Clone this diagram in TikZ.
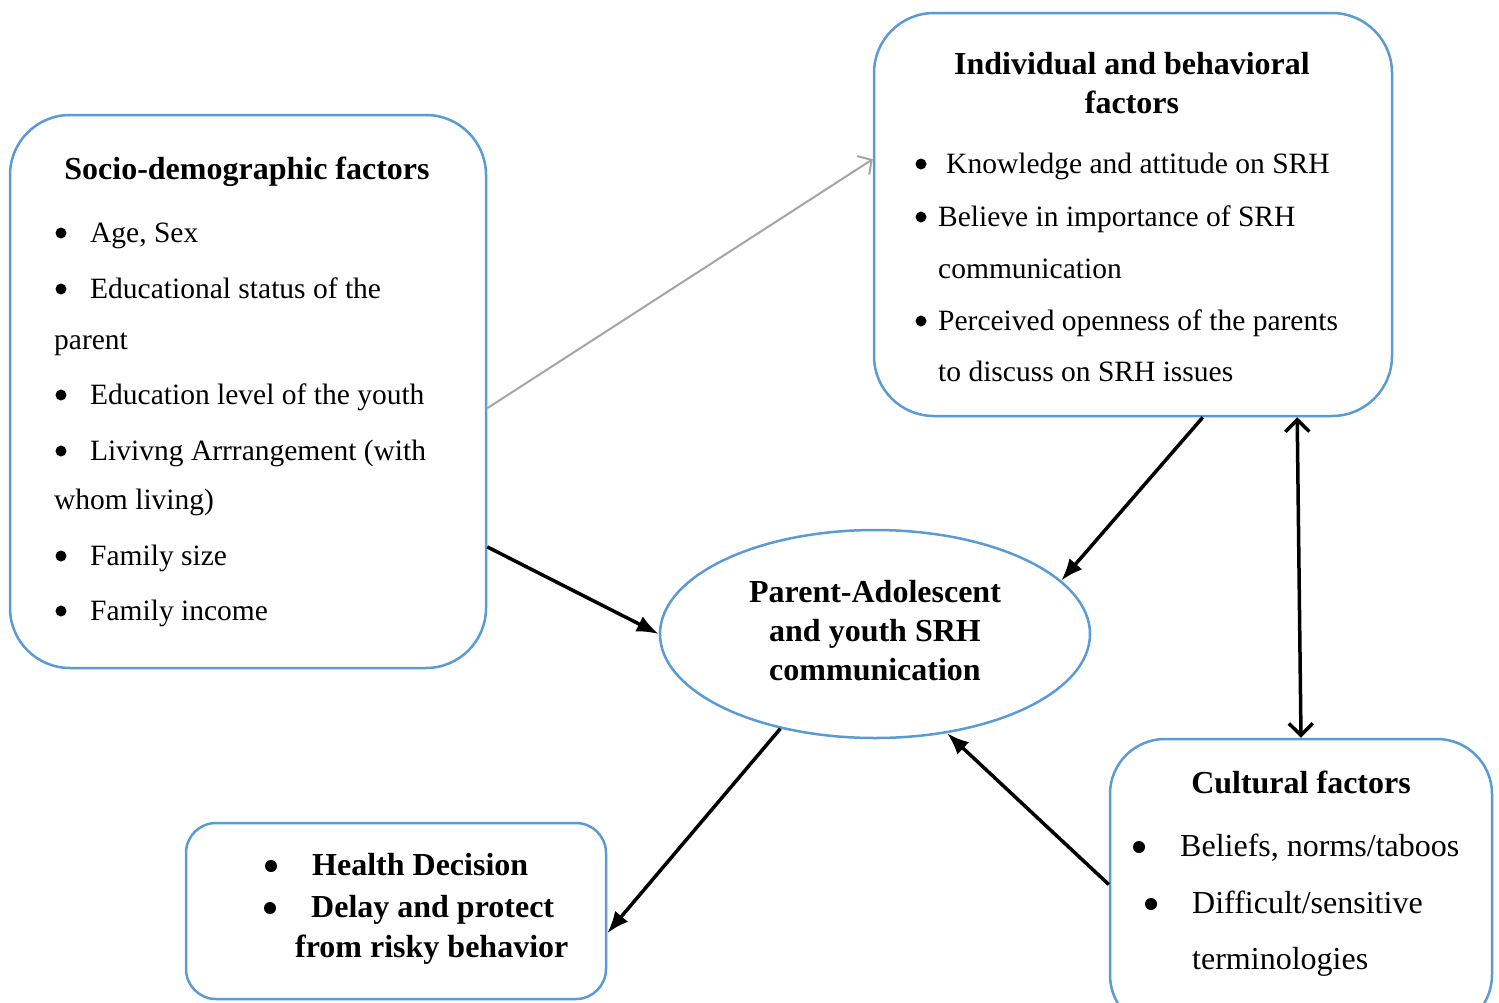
\documentclass[tikz,border=0pt]{standalone}
\usepackage{fontspec}
\setmainfont{Liberation Serif}
\usetikzlibrary{positioning}
\usetikzlibrary{calc}
\usetikzlibrary{arrows.meta}
\usetikzlibrary{shapes.geometric}
\definecolor{boxblue}{RGB}{91,155,213}
\definecolor{arrgray}{RGB}{165,165,165}

\begin{document}
\begin{tikzpicture}[x=1pt, y=-1pt,
  box/.style={draw=boxblue, line width=2.5pt, rounded corners=#1, inner sep=0pt},
  box/.default=60pt,
  oval/.style={draw=boxblue, line width=2.5pt, ellipse, inner sep=0pt},
  txt/.style={anchor=base west, inner sep=0pt, font=\fontsize{29.5}{34}\selectfont},
  ctxt/.style={anchor=base west, inner sep=0pt, font=\fontsize{32}{36}\selectfont},
  bul/.style={circle, fill, inner sep=0pt, minimum size=#1},
  bul/.default=11pt,
  hd/.style={anchor=base, inner sep=0pt, font=\fontsize{32}{36}\selectfont\bfseries},
  btxt/.style={anchor=base west, inner sep=0pt, font=\fontsize{32}{36}\selectfont\bfseries},
  barrow/.style={-{Latex[length=22pt,width=17pt]}, line width=3.5pt},
  darrow/.style={{Straight Barb[length=12pt,width=24pt]}-{Straight Barb[length=12pt,width=24pt]}, line width=3.5pt},
  garrow/.style={-{Straight Barb[length=10pt,width=22pt]}, draw=arrgray, line width=2pt}]
  \useasboundingbox (0,0) rectangle (1499,1002);
  \clip (0,0) rectangle (1499,1002);

  % boxes
  \node[box, minimum width=476pt, minimum height=553pt] (socio) at (248,391.5) {};
  \node[box, minimum width=518pt, minimum height=403pt] (indiv) at (1133,214.5) {};
  \node[oval, minimum width=430pt, minimum height=208pt] (comm) at (875,634) {};
  \node[box=30pt, minimum width=420pt, minimum height=176pt] (health) at (396,911) {};
  \node[box=55pt, minimum width=382pt, minimum height=291pt] (cult) at (1301,884.5) {};

  % socio-demographic factors
  \node[hd] (sociohd) at (247,179) {Socio-demographic factors};
  \node[bul] (sb1) at (61,233) {};
  \node[txt] (s1) at (90,242) {Age, Sex};
  \node[bul] (sb2) at (61,289) {};
  \node[txt] (s2) at (90,298) {Educational status of the};
  \node[txt] (s2b) at (54,349) {parent};
  \node[bul] (sb3) at (61,395) {};
  \node[txt] (s3) at (90,404) {Education level of the youth};
  \node[bul] (sb4) at (61,451) {};
  \node[txt] (s4) at (90,460) {Livivng Arrrangement (with};
  \node[txt] (s4b) at (54,509) {whom living)};
  \node[bul] (sb5) at (61,556) {};
  \node[txt] (s5) at (90,565) {Family size};
  \node[bul] (sb6) at (61,611) {};
  \node[txt] (s6) at (90,620) {Family income};

  % individual and behavioral factors
  \node[hd] (indivhd) at (1132,74) {Individual and behavioral};
  \node[hd] (indivhdb) at (1132,113) {factors};
  \node[bul] (ib1) at (921,164) {};
  \node[txt] (i1) at (946,173) {Knowledge and attitude on SRH};
  \node[bul] (ib2) at (921,217) {};
  \node[txt] (i2) at (938,226) {Believe in importance of SRH};
  \node[txt] (i2b) at (938,278) {communication};
  \node[bul] (ib3) at (921,321) {};
  \node[txt] (i3) at (938,330) {Perceived openness of the parents};
  \node[txt] (i3b) at (938,381) {to discuss on SRH issues};

  % communication
  \node[hd] (c1) at (875,602) {Parent-Adolescent};
  \node[hd] (c2) at (875,641) {and youth SRH};
  \node[hd] (c3) at (875,680) {communication};

  % health outcome
  \node[bul=12pt] (hb1) at (271,866) {};
  \node[btxt] (h1) at (312,875) {Health Decision};
  \node[bul=12pt] (hb2) at (270,908) {};
  \node[btxt] (h2) at (311,917) {Delay and protect};
  \node[btxt] (h2b) at (295,957) {from risky behavior};

  % cultural factors
  \node[hd] (culthd) at (1301,793) {Cultural factors};
  \node[bul=12pt] (cb1) at (1139,847) {};
  \node[ctxt] (k1) at (1180,856) {Beliefs, norms/taboos};
  \node[bul=12pt] (cb2) at (1151,904) {};
  \node[ctxt] (k2) at (1192,913) {Difficult/sensitive};
  \node[ctxt] (k2b) at (1192,969) {terminologies};

  % connectors
  \draw[garrow] (socio.-4) -- (indiv.168);
  \draw[barrow] (socio.-33) -- (comm.west);
  \draw[barrow] (indiv.-71) -- (comm.16);
  \draw[darrow] (indiv.-51) -- (cult.north);
  \draw[barrow] (comm.-135) -- (health.-6);
  \draw[barrow] (cult.west) -- (comm.-54);
\end{tikzpicture}
\end{document}
